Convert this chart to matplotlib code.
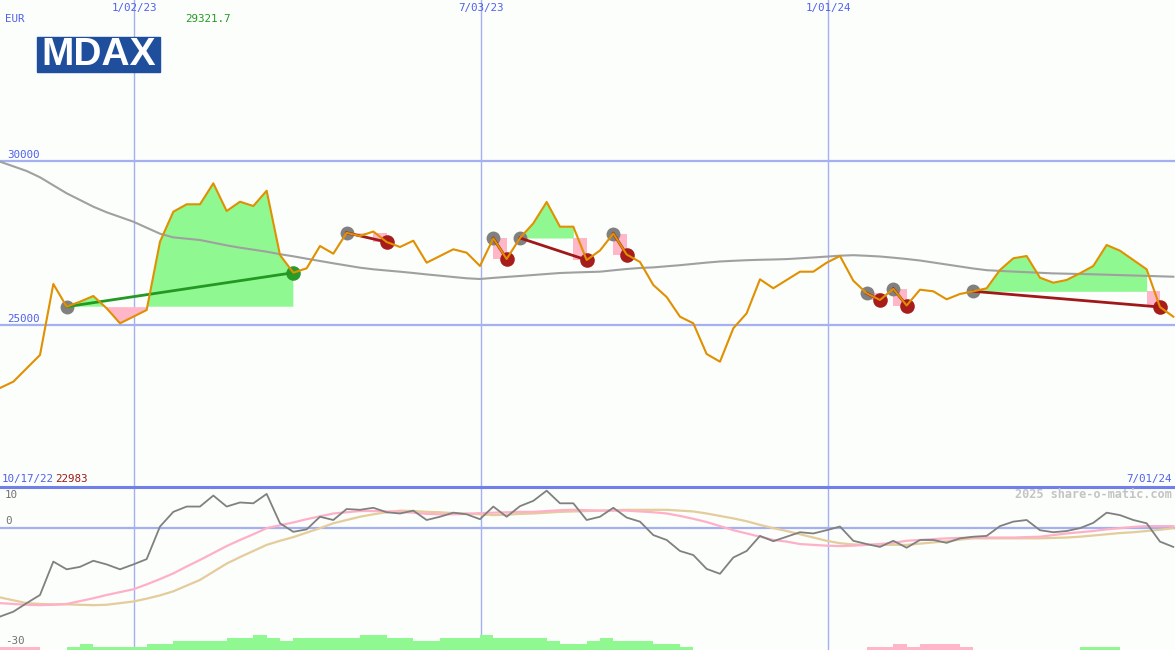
import numpy as np
import matplotlib
matplotlib.use('Agg')
import matplotlib.pyplot as plt
from matplotlib.patches import Rectangle

# weekly closes, 10/17/22 .. 7/01/24
price = [23079, 23271, 23679, 24085, 26250, 25558, 25710, 25884, 25509, 25051,
         25253, 25457, 27539, 28454, 28680, 28680, 29320, 28475, 28759, 28628,
         29094, 27134, 26594, 26728, 27408, 27174, 27811, 27713, 27850, 27530,
         27378, 27570, 26899, 27103, 27308, 27204, 26799, 27643, 27012, 27652,
         28100, 28750, 27997, 27997, 26981, 27271, 27789, 27149, 26921, 26219,
         25853, 25253, 25051, 24115, 23881, 24899, 25356, 26393, 26119, 26372,
         26625, 26625, 26899, 27103, 26350, 25966, 25762, 26103, 25594, 26076,
         26027, 25783, 25945, 26027, 26119, 26677, 27033, 27103, 26442, 26289,
         26372, 26576, 26799, 27439, 27265, 26981, 26698, 25548, 25253]

# long moving average (grey)
ma_long = [29979, 29838, 29695, 29503, 29259, 29015, 28811, 28607, 28436, 28293,
           28149, 27966, 27783, 27671, 27631, 27591, 27509, 27427, 27357, 27296,
           27235, 27158, 27094, 27021, 26951, 26881, 26814, 26747, 26698, 26661,
           26625, 26585, 26542, 26503, 26463, 26424, 26402, 26436, 26466, 26494,
           26524, 26555, 26585, 26600, 26613, 26625, 26667, 26707, 26738, 26756,
           26790, 26823, 26863, 26902, 26936, 26957, 26975, 26988, 26997, 27009,
           27033, 27058, 27085, 27113, 27128, 27110, 27088, 27052, 27012, 26966,
           26905, 26844, 26783, 26722, 26671, 26649, 26628, 26610, 26591, 26573,
           26564, 26555, 26545, 26533, 26521, 26509, 26497, 26484, 26472]

# signals: (entry week, exit week)
trades = [(5, 22), (26, 29), (37, 38), (39, 44), (46, 47),
          (65, 66), (67, 68), (73, 87)]

# lower panel: oscillator and its two smoothings
osc = [-21.8, -20.6, -18.5, -16.5, -8.3, -10.2, -9.6, -8.1, -9.0, -10.2,
       -9.0, -7.7, 0.3, 3.9, 5.2, 5.2, 7.9, 5.2, 6.2, 6.0,
       8.3, 1.1, -1.0, -0.4, 2.7, 1.9, 4.6, 4.4, 4.9, 3.8,
       3.5, 4.2, 1.9, 2.7, 3.7, 3.3, 2.1, 5.2, 2.7, 5.3,
       6.6, 9.1, 6.0, 6.0, 1.9, 2.7, 4.9, 2.5, 1.5, -1.8,
       -3.0, -5.7, -6.7, -10.1, -11.3, -7.3, -5.7, -2.0, -3.3, -2.2,
       -1.1, -1.4, -0.6, 0.3, -3.2, -4.0, -4.7, -3.2, -4.9, -3.0,
       -3.0, -3.7, -2.6, -2.2, -2.0, 0.4, 1.5, 1.9, -0.6, -1.1,
       -0.8, -0.1, 1.2, 3.7, 3.1, 1.9, 1.1, -3.4, -4.7]
osc_fast = [-18.5, -18.7, -18.9, -19.0, -18.9, -18.7, -18.0, -17.3, -16.5, -15.8,
            -15.1, -13.9, -12.6, -11.2, -9.5, -7.9, -6.2, -4.5, -3.0, -1.6,
            -0.1, 0.6, 1.3, 2.1, 2.8, 3.5, 3.8, 4.1, 4.1, 4.0,
            3.9, 3.7, 3.4, 3.3, 3.3, 3.4, 3.6, 3.7, 3.8, 3.9,
            3.9, 4.1, 4.3, 4.4, 4.3, 4.2, 4.2, 4.2, 4.0, 3.8,
            3.5, 2.9, 2.2, 1.4, 0.4, -0.6, -1.4, -2.2, -3.0, -3.4,
            -4.0, -4.2, -4.4, -4.5, -4.4, -4.2, -4.0, -3.7, -3.2, -3.0,
            -2.8, -2.6, -2.5, -2.4, -2.4, -2.4, -2.4, -2.3, -2.2, -1.8,
            -1.4, -1.1, -0.8, -0.4, -0.1, 0.2, 0.4, 0.4, 0.4]
osc_slow = [-17.1, -17.8, -18.5, -18.7, -18.8, -18.8, -18.9, -19.0, -18.9, -18.5,
            -18.1, -17.4, -16.6, -15.6, -14.2, -12.8, -10.8, -8.8, -7.2, -5.7,
            -4.2, -3.2, -2.3, -1.2, -0.1, 1.1, 1.9, 2.7, 3.3, 3.8,
            4.2, 4.1, 3.9, 3.8, 3.6, 3.5, 3.3, 3.1, 3.2, 3.4,
            3.5, 3.7, 3.9, 4.0, 4.1, 4.2, 4.3, 4.4, 4.4, 4.4,
            4.4, 4.2, 4.0, 3.5, 2.9, 2.3, 1.6, 0.7, -0.1, -0.8,
            -1.6, -2.4, -3.2, -3.8, -4.1, -4.2, -4.2, -4.2, -4.2, -3.9,
            -3.6, -3.3, -2.9, -2.6, -2.6, -2.6, -2.6, -2.6, -2.6, -2.5,
            -2.4, -2.2, -1.9, -1.6, -1.3, -1.1, -0.8, -0.5, -0.1]

# strength bars at the bottom (positive = green, negative = pink)
strength = [-0.7, -0.7, -0.7, 0, 0, 0.7, 1.5, 0.7, 0.7, 0.7,
            0.7, 1.5, 1.5, 2.2, 2.2, 2.2, 2.2, 2.9, 2.9, 3.7,
            2.9, 2.2, 2.9, 2.9, 2.9, 2.9, 2.9, 3.7, 3.7, 2.9,
            2.9, 2.2, 2.2, 2.9, 2.9, 2.9, 3.7, 2.9, 2.9, 2.9,
            2.9, 2.2, 1.5, 1.5, 2.2, 2.9, 2.2, 2.2, 2.2, 1.5,
            1.5, 0.7, 0, 0, 0, 0, 0, 0, 0, 0,
            0, 0, 0, 0, 0, -0.7, -0.7, -1.5, -0.7, -1.5,
            -1.5, -1.5, -0.7, 0, 0, 0, 0, 0, 0, 0,
            0, 0.7, 0.7, 0.7, 0, 0, 0, 0]

date_ticks = [10.05, 36.08, 62.1]
date_labels = ['1/02/23', '7/03/23', '1/01/24']
price_levels = [30000, 25000]
osc_labels = [10, 0, -30]
first_date, last_date = '10/17/22', '7/01/24'
high_label, low_label = '29321.7', '22983'

bg = '#fbfefb'
blue_txt = '#5060ec'
grid_c = '#a4b0f0'
mono = 'DejaVu Sans Mono'

W, H = 1175, 650
fig = plt.figure(figsize=(W / 100, H / 100), dpi=100, facecolor=bg)

# ---- price panel ----
ax = fig.add_axes([0, 163 / H, 1, 487 / H])
ax.set_facecolor(bg)
k = np.arange(len(price))
p = np.array(price, dtype=float)
ax.set_xlim(0, W / 13.333)
ax.set_ylim(20060, 34909)

for lev in price_levels:
    ax.axhline(lev, color=grid_c, lw=1.6, zorder=1)
for d in date_ticks:
    ax.axvline(d, color=grid_c, lw=1.0, zorder=1)

for e, x in trades:
    level = p[e]
    profit = p[x] > level
    stop = x + 1 if profit else x
    seg = k[e:stop]
    ps = p[e:stop]
    ax.fill_between(seg, level, ps, where=ps >= level, interpolate=True,
                    color='#90f890', lw=0, zorder=2)
    ax.fill_between(seg, level, ps, where=ps < level, interpolate=True,
                    color='#ffb6c8', lw=0, zorder=2)
    if not profit:
        # last week before the exit shown as a block
        ax.fill_between([x - 1, x], level, p[x], color='#ffb6c8', lw=0, zorder=2)

ax.plot(k, ma_long, color='#a0a0a0', lw=1.5, zorder=3)

for e, x in trades:
    profit = p[x] > p[e]
    ax.plot(e, p[e], 'o', color='#808080', ms=10, mec='none', zorder=4)
    ax.plot(x, p[x], 'o', color='#2a9a2a' if profit else '#a81c1c', ms=10.5,
            mec='none', zorder=4)
    ax.plot([e, x], [p[e], p[x]], color='#229922' if profit else '#a01818',
            lw=2.0, zorder=5)

ax.plot(k, p, color='#e09000', lw=1.5, zorder=6)
ax.axis('off')

# ---- oscillator panel ----
ax2 = fig.add_axes([0, 0, 1, 163 / H])
ax2.set_facecolor(bg)
ax2.set_xlim(0, W / 13.333)
ax2.set_ylim(-30, 10)
ax2.axhline(0, color=grid_c, lw=1.6, zorder=1)
for d in date_ticks:
    ax2.axvline(d, color=grid_c, lw=1.0, zorder=1)

s = np.array(strength)
ax2.bar(np.arange(len(s)), np.abs(s), width=1.0, align='edge', bottom=-30,
        color=['#90f890' if v > 0 else '#ffb6c8' for v in s], lw=0, zorder=2)
ax2.plot(k, osc_slow, color='#e4cc9c', lw=1.6, zorder=3)
ax2.plot(k, osc_fast, color='#ffb0c8', lw=1.6, zorder=3)
ax2.plot(k, osc, color='#808080', lw=1.3, zorder=4)
ax2.axis('off')

# separator between panels
fig.add_artist(plt.Line2D([0, 1], [1 - 487 / H] * 2, color='#7080e8', lw=2.2))

# ---- texts ----
def ftext(x, y, s, **kw):
    kw.setdefault('family', mono)
    kw.setdefault('fontsize', 7.8)
    fig.text(x / W, 1 - y / H, s, **kw)

ftext(5, 19, 'EUR', color=blue_txt, va='center')
for d, lab in zip(date_ticks, date_labels):
    ftext(d * 13.333, 8, lab, color=blue_txt, ha='center', va='center')
ftext(185, 19, high_label, color='#239a23', va='center')
for lev in price_levels:
    y = 161 + (30000 - lev) / 30.49
    ftext(7, y - 6, str(lev), color=blue_txt, va='center')
ftext(2, 479, first_date, color=blue_txt, va='center')
ftext(55, 479, low_label, color='#a01818', va='center')
ftext(1172, 479, last_date, color=blue_txt, ha='right', va='center')
ftext(1172, 495, '2025 share-o-matic.com', color='#c4c4c4', ha='right',
      va='center', fontweight='bold', fontsize=8.6)
for lab, y in zip(osc_labels, [495, 521, 641]):
    ftext(5, y, str(lab), color='#707070', va='center')

# MDAX logo
fig.add_artist(Rectangle((37 / W, 1 - 72 / H), 123 / W, 35 / H,
                         transform=fig.transFigure, color='#1f4f9c', zorder=10))
fig.text(98.5 / W, 1 - 55 / H, 'MDAX', color='white', fontsize=28,
         fontweight='bold', family='Liberation Sans', ha='center', va='center',
         zorder=11)

fig.savefig('out.png', dpi=100, facecolor=bg)
